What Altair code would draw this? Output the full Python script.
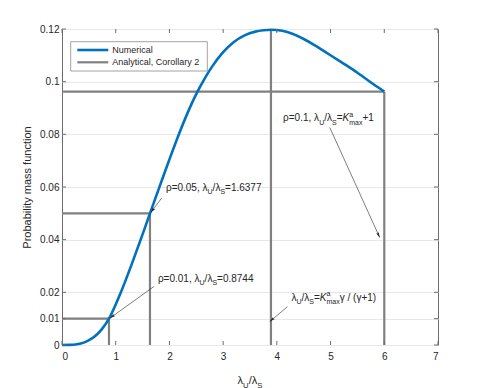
import math
import altair as alt
import pandas as pd

# ---------------- data ----------------
curve_x = [0, 0.15, 0.25, 0.35, 0.45, 0.55, 0.65, 0.75, 0.8744, 1.0, 1.1, 1.2, 1.3, 1.4,
           1.5, 1.6377, 1.8, 2.0, 2.2, 2.4, 2.52, 2.65, 2.8, 3.0, 3.2, 3.4, 3.6, 3.75,
           3.89, 4.1, 4.3, 4.5, 4.7, 4.9, 5.2, 5.5, 5.8, 6.0]
curve_y = [0, 0.00003, 0.0002, 0.0006, 0.0013, 0.0024, 0.004, 0.0062, 0.01, 0.0154,
           0.0202, 0.0254, 0.0308, 0.0364, 0.042, 0.05, 0.0592, 0.0705, 0.0813, 0.091,
           0.0961, 0.101, 0.1059, 0.1112, 0.1151, 0.1176, 0.119, 0.1195, 0.1197, 0.1193,
           0.1181, 0.1162, 0.1139, 0.1113, 0.1074, 0.1034, 0.099, 0.0962]

# analytical (Corollary 2) guide segments
ana_x1 = [0, 0.8744, 0, 1.6377, 0, 6.0, 3.89]
ana_x2 = [0.8744, 0.8744, 1.6377, 1.6377, 6.0, 6.0, 3.89]
ana_y1 = [0.01, 0, 0.05, 0, 0.0962, 0, 0]
ana_y2 = [0.01, 0.01, 0.05, 0.05, 0.0962, 0.0962, 0.12]

# annotation arrows (tail -> tip)
arr_x1 = [1.711, 1.855, 4.985, 4.198]
arr_y1 = [0.0222, 0.0558, 0.0826, 0.01456]
arr_x2 = [0.893, 1.655, 5.915, 3.869]
arr_y2 = [0.0102, 0.0503, 0.0408, 0.0089]

# annotation texts: (piece, kind, italic)
ann_x = [1.786, 1.935, 4.116, 4.273]
ann_y = [0.0241, 0.0584, 0.0849, 0.0168]
ann_pieces = [
    [("ρ=0.01, λ", "n", 0), ("U", "sub", 0), ("/λ", "n", 0), ("S", "sub", 0), ("=0.8744", "n", 0)],
    [("ρ=0.05, λ", "n", 0), ("U", "sub", 0), ("/λ", "n", 0), ("S", "sub", 0), ("=1.6377", "n", 0)],
    [("ρ=0.1, λ", "n", 0), ("U", "sub", 0), ("/λ", "n", 0), ("S", "sub", 0), ("=", "n", 0),
     ("K", "n", 1), ("a", "supst", 0), ("max", "sub", 0), ("+1", "n", 0)],
    [("λ", "n", 0), ("U", "sub", 0), ("/λ", "n", 0), ("S", "sub", 0), ("=", "n", 0),
     ("K", "n", 1), ("a", "supst", 0), ("max", "sub", 0), ("γ / (γ+1)", "n", 0)],
]
xtitle_pieces = [("λ", "n", 0), ("U", "sub", 0), ("/λ", "n", 0), ("S", "sub", 0)]
ytitle = "Probability mass function"

x_ticks = [0, 1, 2, 3, 4, 5, 6, 7]
y_ticks = [0, 0.01, 0.02, 0.04, 0.06, 0.08, 0.1, 0.12]
legend_labels = ["Numerical", "Analytical, Corollary 2"]

# ---------------- styling / layout ----------------
W, H = 376, 316
XMAX, YMAX = 7, 0.12
PXX = W / XMAX
PXY = H / YMAX
FONT = "Liberation Sans"
TXT = "#262626"
BLUE = "#0072BD"
GRAY = "#808080"

WID = {' ': 278, ',': 278, '.': 278, '/': 278, '=': 584, '+': 584, '(': 333, ')': 333,
       'U': 722, 'S': 667, 'K': 667, 'a': 556, 'm': 833, 'x': 500,
       'ρ': 577, 'λ': 500, 'γ': 500}


def tw(s, size):
    return sum(WID.get(c, 556) for c in s) * size / 1000.0


def layout(pieces, x0, y0, size, rows):
    cur = 0.0
    for txt, kind, ital in pieces:
        if kind == "n":
            fs, dy = size, 0.0
        elif kind == "sub":
            fs, dy = size * 0.7, 0.32 * size
        else:
            fs, dy = size * 0.7, -0.45 * size
        rows.append(dict(x=x0 + cur / PXX, y=y0 - dy / PXY, t=txt, s=fs, it=ital))
        if kind != "supst":
            cur += tw(txt, fs)
    return cur


text_rows = []
for px, py, pcs in zip(ann_x, ann_y, ann_pieces):
    layout(pcs, px, py, 10, text_rows)
# x-axis title centered under plot
tmp = []
wtitle = layout(xtitle_pieces, 0, 0, 11, tmp)
layout(xtitle_pieces, XMAX / 2 - (wtitle / 2) / PXX, -39 / PXY, 11, text_rows)
text_df = pd.DataFrame(text_rows)

curve_df = pd.DataFrame({"x": curve_x, "y": curve_y})
ana_df = pd.DataFrame({"x": ana_x1, "x2": ana_x2, "y": ana_y1, "y2": ana_y2})
arr_df = pd.DataFrame({"x": arr_x1, "y": arr_y1, "x2": arr_x2, "y2": arr_y2})
angs = []
for a, b, c, d in zip(arr_x1, arr_y1, arr_x2, arr_y2):
    dxp = (c - a) * PXX
    dyp = -(d - b) * PXY
    angs.append(math.degrees(math.atan2(dxp, -dyp)) % 360)
head_df = pd.DataFrame({"x": arr_x2, "y": arr_y2, "ang": angs})
xt_df = pd.DataFrame({"v": x_ticks})
yt_df = pd.DataFrame({"v": y_ticks})

xs = alt.Scale(domain=[0, XMAX], nice=False, zero=False)
ys = alt.Scale(domain=[0, YMAX], nice=False, zero=False)
xaxis = alt.Axis(values=x_ticks, format="d", grid=False, domain=False, ticks=False,
                 labelFont=FONT, labelFontSize=10, labelColor=TXT, labelPadding=6,
                 title=None)
yaxis = alt.Axis(values=y_ticks, format=".2~f", grid=True, gridColor="#e8e8e8",
                 gridWidth=1, domain=False, ticks=False, labelFont=FONT,
                 labelFontSize=10, labelColor=TXT, labelPadding=3, title=ytitle,
                 titleFont=FONT, titleFontSize=11, titleFontWeight="normal",
                 titleColor=TXT, titlePadding=7)


def X(f):
    return alt.X(f, type="quantitative", scale=xs, axis=xaxis)


def Y(f):
    return alt.Y(f, type="quantitative", scale=ys, axis=yaxis)


curve = alt.Chart(curve_df).mark_line(color=BLUE, strokeWidth=2.6, interpolate="monotone").encode(
    x=X("x"), y=Y("y"))

ana = alt.Chart(ana_df).mark_rule(color=GRAY, strokeWidth=2.2).encode(
    x=X("x"), x2="x2", y=Y("y"), y2="y2")

arrows = alt.Chart(arr_df).mark_rule(color=TXT, strokeWidth=0.6).encode(
    x=X("x"), x2="x2", y=Y("y"), y2="y2")

heads = alt.Chart(head_df).mark_point(
    shape="M0,0L-0.5,2L0,1.6L0.5,2Z", filled=True, color=TXT, opacity=1, size=30
).encode(x=X("x"), y=Y("y"), angle=alt.Angle("ang:Q", scale=None))

txt_n = alt.Chart(text_df).transform_filter("datum.it == 0").mark_text(
    font=FONT, color=TXT, align="left", baseline="alphabetic"
).encode(x=X("x"), y=Y("y"), text="t:N", size=alt.Size("s:Q", scale=None))

txt_i = alt.Chart(text_df).transform_filter("datum.it == 1").mark_text(
    font=FONT, color=TXT, align="left", baseline="alphabetic", fontStyle="italic"
).encode(x=X("x"), y=Y("y"), text="t:N", size=alt.Size("s:Q", scale=None))

TL = 4
tick_b = alt.Chart(xt_df).mark_rule(color="#6b6b6b", strokeWidth=1).encode(
    x=X("v"), y=alt.value(H), y2=alt.value(H - TL))
tick_t = alt.Chart(xt_df).mark_rule(color="#6b6b6b", strokeWidth=1).encode(
    x=X("v"), y=alt.value(0), y2=alt.value(TL))
tick_l = alt.Chart(yt_df).mark_rule(color="#6b6b6b", strokeWidth=1).encode(
    y=Y("v"), x=alt.value(0), x2=alt.value(TL))
tick_r = alt.Chart(yt_df).mark_rule(color="#6b6b6b", strokeWidth=1).encode(
    y=Y("v"), x=alt.value(W), x2=alt.value(W - TL))

# legend (drawn in pixel space inside the axes)
leg_df = pd.DataFrame({"label": legend_labels,
                       "col": [BLUE, GRAY],
                       "sw": [2.6, 2.2],
                       "ly": [21.0, 33.3]})
leg_box = alt.Chart(pd.DataFrame({"a": [0]})).mark_rect(
    fill="white", stroke="#8a8a8a", strokeWidth=0.8
).encode(x=alt.value(8.7), x2=alt.value(145.3), y=alt.value(12.7), y2=alt.value(42))
leg_lines = alt.Chart(leg_df).mark_rule().encode(
    x=alt.value(15.3), x2=alt.value(46.3),
    y=alt.Y("ly:Q", scale=None),
    color=alt.Color("col:N", scale=None),
    strokeWidth=alt.StrokeWidth("sw:Q", scale=None))
leg_text = alt.Chart(leg_df).mark_text(
    font=FONT, fontSize=9, color=TXT, align="left", baseline="middle"
).encode(x=alt.value(50.3), y=alt.Y("ly:Q", scale=None), text="label:N")

chart = alt.layer(
    ana, curve, arrows, heads, txt_n, txt_i, tick_b, tick_t, tick_l, tick_r,
    leg_box, leg_lines, leg_text
).properties(
    width=W, height=H,
    autosize=alt.AutoSizeParams(type="none"),
    padding={"left": 54, "top": 21, "right": 39, "bottom": 48},
    background="white",
).configure_view(stroke="#6b6b6b", strokeWidth=1)

chart.save("out.html", embed_options={"renderer": "svg", "actions": False})
